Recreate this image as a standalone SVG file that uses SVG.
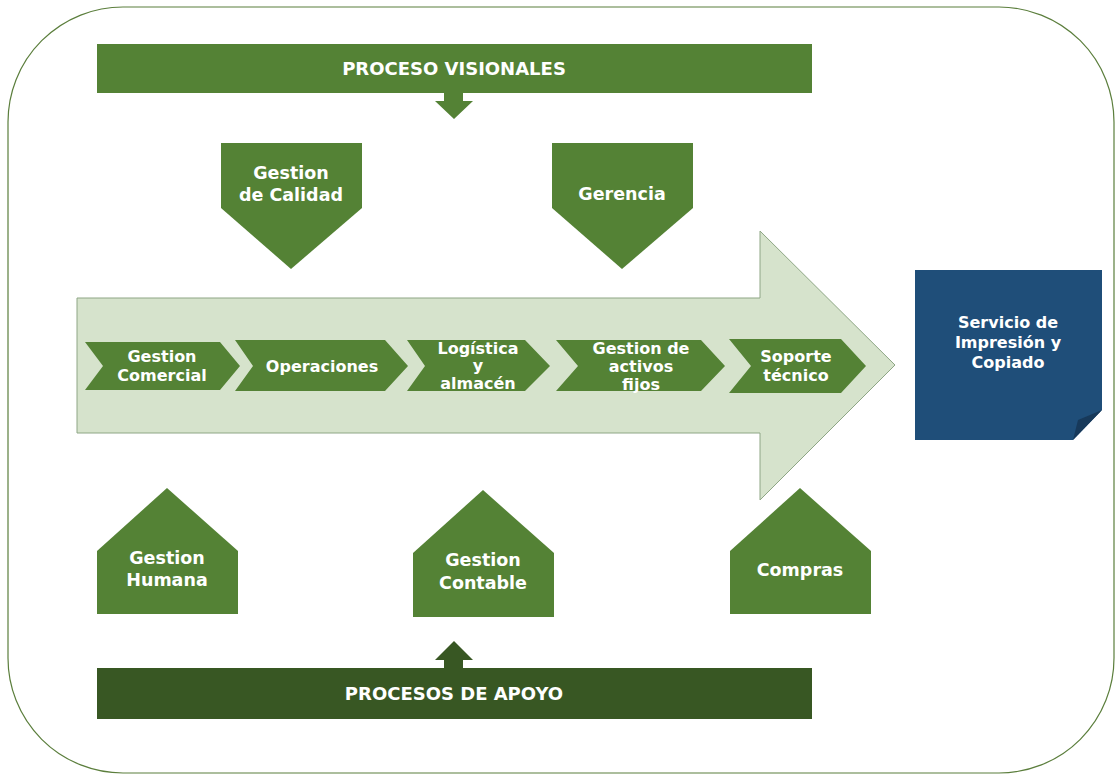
<svg xmlns="http://www.w3.org/2000/svg" width="1115" height="776" viewBox="0 0 1115 776">
<style>
.t{font-family:"DejaVu Sans",Verdana,sans-serif;font-weight:bold;fill:#ffffff;text-anchor:middle}
.n{font-size:17.5px}
.c{font-size:16px}
.b{font-size:18px}
.g{fill:#548235}
.dg{fill:#385723}
.chev{fill:#548235}
</style>
<rect x="0" y="0" width="1115" height="776" fill="#ffffff"/>
<rect id="frame" x="8" y="7" width="1106" height="766" rx="115" ry="115" fill="#ffffff" stroke="#5b7e3c" stroke-width="1.2"/>

<g id="proceso-visionales">
<rect class="g" x="97" y="44" width="715" height="49"/>
<text class="t b" x="454" y="75">PROCESO VISIONALES</text>
</g>

<g id="flujo">
<path d="M77,298 L760,298 L760,231 L895,365 L760,500 L760,433 L77,433 Z" fill="#d6e3cc" stroke="#8ea685" stroke-width="1"/>
</g>

<g id="gestion-calidad">
<polygon class="g" points="221,143 362,143 362,208 291,269 221,208"/>
<text class="t n" x="291" y="179">Gestion</text>
<text class="t n" x="291" y="201">de Calidad</text>
</g>

<g id="gerencia">
<polygon class="g" points="552,143 693,143 693,208 622,269 552,208"/>
<text class="t n" x="622" y="200">Gerencia</text>
</g>

<g id="gestion-comercial">
<polygon class="chev" points="85,342 220,342 240,366 220,390 85,390 103,366"/>
<text class="t c" x="162" y="362">Gestion</text>
<text class="t c" x="162" y="381">Comercial</text>
</g>

<g id="operaciones">
<polygon class="chev" points="235,340 385,340 408,366 385,391 235,391 253,366"/>
<text class="t c" x="322" y="372">Operaciones</text>
</g>

<g id="logistica">
<polygon class="chev" points="407,340 525,340 550,366 525,391 407,391 425,366"/>
<text class="t c" x="478" y="354">Logística</text>
<text class="t c" x="478" y="371">y</text>
<text class="t c" x="478" y="389">almacén</text>
</g>

<g id="activos-fijos">
<polygon class="chev" points="556,340 701,340 725,366 701,391 556,391 578,366"/>
<text class="t c" x="641" y="354">Gestion de</text>
<text class="t c" x="641" y="372">activos</text>
<text class="t c" x="641" y="390">fijos</text>
</g>

<g id="soporte-tecnico">
<polygon class="chev" points="729,339 841,339 866,366 841,393 729,393 751,366"/>
<text class="t c" x="796" y="362">Soporte</text>
<text class="t c" x="796" y="381">técnico</text>
</g>

<g id="servicio">
<polygon points="915,270 1102,270 1102,410 1073,440 915,440" fill="#1f4e79"/>
<polygon points="1102,410 1073,440 1078,420" fill="#17395a"/>
<text class="t c" x="1008" y="328">Servicio de</text>
<text class="t c" x="1008" y="348">Impresión y</text>
<text class="t c" x="1008" y="368">Copiado</text>
</g>

<g id="gestion-humana">
<polygon class="g" points="167,488 238,551 238,614 97,614 97,551"/>
<text class="t n" x="167" y="564">Gestion</text>
<text class="t n" x="167" y="586">Humana</text>
</g>

<g id="gestion-contable">
<polygon class="g" points="483,490 554,553 554,617 413,617 413,553"/>
<text class="t n" x="483" y="566">Gestion</text>
<text class="t n" x="483" y="589">Contable</text>
</g>

<g id="compras">
<polygon class="g" points="800,488 871,551 871,614 730,614 730,551"/>
<text class="t n" x="800" y="576">Compras</text>
</g>

<g id="procesos-apoyo">
<rect class="dg" x="97" y="668" width="715" height="51"/>
<text class="t b" x="454" y="700">PROCESOS DE APOYO</text>
</g>

<g id="connectors">
<polygon class="g" points="444,93 463,93 463,101 473,101 454,119 435,101 444,101"/>
<polygon class="dg" points="444,668 463,668 463,660 473,660 454,641 435,660 444,660"/>
</g>
</svg>
